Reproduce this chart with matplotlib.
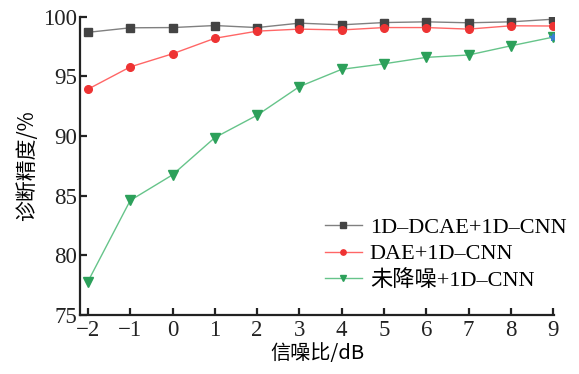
import matplotlib
matplotlib.use("Agg")
import matplotlib.pyplot as plt

plt.rcParams['font.family'] = ['Liberation Serif', 'Noto Sans CJK SC']
plt.rcParams['mathtext.fontset'] = 'stix'

snr = [-2, -1, 0, 1, 2, 3, 4, 5, 6, 7, 8, 9]
dcae = [98.7, 99.08, 99.1, 99.27, 99.1, 99.47, 99.33, 99.52, 99.58, 99.5, 99.58, 99.8]
dae = [93.93, 95.8, 96.9, 98.2, 98.8, 98.97, 98.9, 99.1, 99.1, 98.97, 99.25, 99.23]
raw = [77.8, 84.6, 86.75, 89.87, 91.75, 94.15, 95.6, 96.06, 96.6, 96.8, 97.57, 98.3]
labels = ['1D\u2013DCAE+1D\u2013CNN', 'DAE+1D\u2013CNN', '未降噪+1D\u2013CNN']
xticks = snr
yticks = [75, 80, 85, 90, 95, 100]

fig = plt.figure(figsize=(5.79, 3.74), dpi=100)
ax = fig.add_axes([0.138, 0.158, 0.819, 0.797])

ax.plot(snr, dcae, color='#808080', lw=1.0, marker='s', ms=5.5,
        mfc='#444444', mec='#444444', label=labels[0], zorder=3)
ax.plot(snr, dae, color='#ff6666', lw=1.0, marker='o', ms=5.5,
        mfc='#ee3333', mec='#ee3333', label=labels[1], zorder=3)
ax.plot(snr, raw, color='#66c48a', lw=1.0, marker='v', ms=6.5,
        mfc='#2ca05a', mec='#2ca05a', label=labels[2], zorder=2)
ax.plot([snr[-1]], [raw[-1]], marker='*', ms=5.5, color='#3a7fd5', ls='none', zorder=4)

ax.set_xlim(-2.19, 9.02)
ax.set_ylim(75, 100)
ax.set_xticks(xticks)
ax.set_xticklabels(['\u2212%d' % -v if v < 0 else str(v) for v in xticks])
ax.set_yticks(yticks)

for s in ['top', 'right']:
    ax.spines[s].set_visible(False)
for s in ['left', 'bottom']:
    ax.spines[s].set_linewidth(1.6)
    ax.spines[s].set_color('#222222')
ax.tick_params(direction='in', length=5, width=1.6, labelsize=16.5, colors='#222222')
ax.tick_params(axis='x', pad=4)
ax.tick_params(axis='y', pad=2)

ax.set_xlabel('信噪比/dB', fontsize=14.5, labelpad=1, family=['Noto Sans CJK SC', 'Liberation Serif'])
ax.set_ylabel('诊断精度/%', fontsize=15, labelpad=4, family=['Noto Sans CJK SC', 'Liberation Serif'])

leg = ax.legend(loc='upper left', bbox_to_anchor=(0.498, 0.356), frameon=False,
                handlelength=1.66, handletextpad=0.36, labelspacing=0.25,
                borderaxespad=0, markerscale=0.7,
                prop={'family': ['Liberation Serif', 'Noto Sans CJK SC'], 'size': 16})

fig.savefig('out.png', dpi=100)
